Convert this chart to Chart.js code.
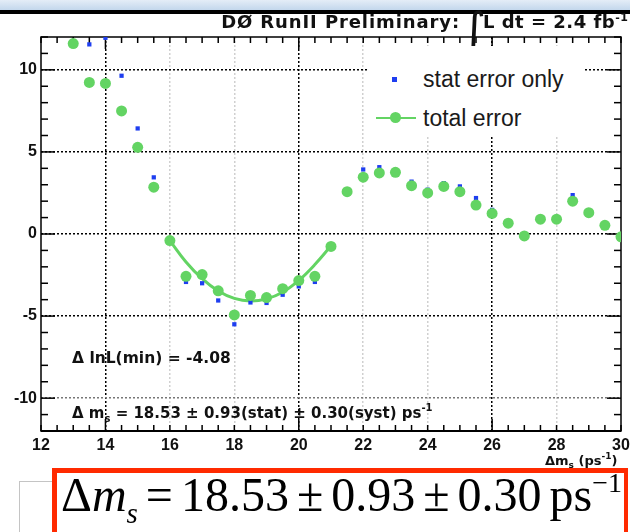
<!DOCTYPE html>
<html><head><meta charset="utf-8">
<script src="https://cdn.jsdelivr.net/npm/chart.js@4"></script>
<style>
html,body{margin:0;padding:0;background:#fff;width:630px;height:532px;overflow:hidden;position:relative;font-family:"Liberation Sans",Arial,sans-serif;}
#c{position:absolute;left:0;top:0;}
.abs{position:absolute;white-space:nowrap;}
.dj{font-family:"DejaVu Sans",sans-serif;font-weight:bold;color:#111;}
sub,sup{line-height:0;}
.g{display:inline-block;width:8px;}
</style></head><body>
<div class="abs" style="left:0;top:0;width:630px;height:10px;background:linear-gradient(#e4edf7,#c3d7ec);"></div>
<div class="abs" style="left:0;top:10px;width:630px;height:4px;background:#000;"></div>
<canvas id="c" width="630" height="470"></canvas>

<!-- title -->
<div class="abs dj" style="right:170px;top:12px;font-size:18px;line-height:20px;letter-spacing:0.9px;">D&Oslash; RunII Preliminary:</div>
<div class="abs" style="left:462px;top:4px;font-family:'DejaVu Sans';font-size:46px;line-height:50px;color:#111;">&int;</div>
<div class="abs dj" style="left:483px;top:12px;font-size:18px;line-height:20px;letter-spacing:0.5px;">L dt = 2.4 fb<sup style="font-size:11px;vertical-align:7px;">-1</sup></div>

<!-- legend -->
<div class="abs" style="left:368px;top:46px;width:217px;height:91px;background:#fff;">
  <div class="abs" style="left:24px;top:31px;width:5px;height:5px;background:#1e3ef0;"></div>
  <div class="abs" style="left:55px;top:20px;font-size:23px;line-height:26px;color:#1a1a1a;">stat error only</div>
  <div class="abs" style="left:8px;top:71px;width:40px;height:2px;background:#63d463;"></div>
  <div class="abs" style="left:22px;top:66px;width:11px;height:11px;border-radius:50%;background:#63d463;"></div>
  <div class="abs" style="left:55px;top:59px;font-size:23px;line-height:26px;color:#1a1a1a;">total error</div>
</div>

<!-- annotations -->
<div class="abs dj" style="left:72px;top:348px;font-size:15.5px;line-height:20px;">&Delta; lnL(min) = -4.08</div>
<div class="abs dj" style="left:72px;top:403px;font-size:15px;line-height:20px;">&Delta; m<sub style="font-size:10px;vertical-align:-4px;">s</sub> = 18.53 &plusmn; 0.93(stat) &plusmn; 0.30(syst) ps<sup style="font-size:10px;vertical-align:7px;">-1</sup></div>

<!-- x axis title -->
<div class="abs dj" style="left:545px;top:453px;font-size:13px;line-height:16px;">&Delta;m<sub style="font-size:9px;vertical-align:-3px;">s</sub> (ps<sup style="font-size:9px;vertical-align:6px;">-1</sup>)</div>

<!-- bottom boxes -->
<div class="abs" style="left:19px;top:481px;width:60px;height:60px;border:1px solid #c4c4c4;background:#fff;"></div>
<div class="abs" style="left:52px;top:468px;width:576px;height:80px;box-sizing:border-box;border:5px solid #ff2a00;border-right-width:4px;background:#fff;"></div>
<div class="abs" style="left:61px;top:468px;font-family:'Liberation Serif','Times New Roman',serif;font-size:48px;line-height:54px;color:#000;">&Delta;<i>m</i><sub style="font-size:29px;vertical-align:-12px;"><i>s</i></sub><span class="g"></span>=<span class="g"></span>18.53<span class="g"></span>&plusmn;<span class="g"></span>0.93<span class="g"></span>&plusmn;<span class="g"></span>0.30<span class="g"></span>ps<sup style="font-size:28px;vertical-align:19px;">&minus;1</sup></div>

<script>
// ---- data ----
const statX = [13.5, 14.0, 14.5, 15.0, 15.5, 16.5, 17.0, 17.5, 18.0, 18.5, 19.0, 19.5, 20.0, 20.5, 22.0, 22.5, 23.5, 24.0, 24.5, 25.0, 25.5, 26.0, 28.5];
const statY = [11.55, 11.95, 9.64, 6.43, 3.45, -2.92, -3.0, -4.05, -5.5, -4.17, -4.2, -3.7, -3.19, -2.92, 3.93, 4.07, 3.19, 2.7, 3.1, 2.9, 2.19, 1.47, 2.37];

const totalX = [13.0, 13.5, 14.0, 14.5, 15.0, 15.5, 16.0, 16.5, 17.0, 17.5, 18.0, 18.5, 19.0, 19.5, 20.0, 20.5, 21.0, 21.5, 22.0, 22.5, 23.0, 23.5, 24.0, 24.5, 25.0, 25.5, 26.0, 26.5, 27.0, 27.5, 28.0, 28.5, 29.0, 29.5, 30.0];
const totalY = [11.6, 9.23, 9.17, 7.5, 5.28, 2.85, -0.4, -2.58, -2.47, -3.46, -4.93, -3.74, -3.87, -3.33, -2.84, -2.58, -0.76, 2.58, 3.46, 3.72, 3.76, 2.94, 2.5, 2.9, 2.58, 1.76, 1.25, 0.66, -0.12, 0.9, 0.9, 2.0, 1.3, 0.53, -0.17];

const fitX = [16.0, 16.5, 17.0, 17.5, 18.0, 18.5, 19.0, 19.5, 20.0, 20.5, 21.0];
const fitY = [-0.4, -1.7, -2.72, -3.47, -3.92, -4.08, -3.95, -3.55, -2.83, -1.86, -0.72];

const xTickLabels = [12, 14, 16, 18, 20, 22, 24, 26, 28, 30];
const xMajor = [14, 20, 26];
const yTickLabels = [-10, -5, 0, 5, 10];

const pts = (xs, ys) => xs.map((x, i) => ({x, y: ys[i]}));

const frameTicks = {
  id: 'frameTicks',
  beforeDatasetsDraw(chart) {
    const {ctx, chartArea: a, scales: {x, y}} = chart;
    ctx.save();
    ctx.strokeStyle = '#000';
    ctx.lineWidth = 1.5;
    const ln = (x1, y1, x2, y2) => { ctx.beginPath(); ctx.moveTo(x1, y1); ctx.lineTo(x2, y2); ctx.stroke(); };
    for (let v = x.min; v <= x.max + 1e-9; v += 0.5) {
      const px = x.getPixelForValue(v);
      const L = xMajor.includes(v) ? 12 : 6;
      ln(px, a.bottom, px, a.bottom - L);
      ln(px, a.top, px, a.top + L);
    }
    for (let v = y.min; v <= y.max + 1e-9; v += 1) {
      const py = y.getPixelForValue(v);
      const L = yTickLabels.includes(v) ? 14 : 7;
      ln(a.left, py, a.left + L, py);
      ln(a.right, py, a.right - L, py);
    }
    ctx.lineWidth = 1.5;
    ctx.strokeRect(a.left, a.top, a.right - a.left, a.bottom - a.top);
    ctx.lineWidth = 2;
    ln(a.left, a.bottom, a.right, a.bottom);
    ctx.restore();
  }
};

new Chart(document.getElementById('c'), {
  type: 'scatter',
  data: {
    datasets: [
      { label: 'total error', data: pts(totalX, totalY), pointStyle: 'circle', pointRadius: 5.5,
        backgroundColor: '#63d463', borderColor: '#63d463', borderWidth: 0, showLine: false },
      { label: 'stat error only', data: pts(statX, statY), pointStyle: 'rect', pointRadius: 3,
        backgroundColor: '#1e3ef0', borderColor: '#1e3ef0', borderWidth: 0, showLine: false },
      { label: 'fit', data: pts(fitX, fitY), showLine: true, pointRadius: 0, borderColor: '#63d463',
        borderWidth: 3, tension: 0.4, fill: false }
    ]
  },
  options: {
    responsive: false,
    animation: false,
    devicePixelRatio: 1,
    layout: { padding: { top: 37, right: 9, left: 0, bottom: 0 } },
    plugins: { legend: { display: false }, tooltip: { enabled: false } },
    scales: {
      x: {
        type: 'linear', min: 12, max: 30,
        afterBuildTicks: s => { s.ticks = xTickLabels.map(v => ({value: v})); },
        afterFit: s => { s.height = 39; s.paddingLeft = 0; s.paddingRight = 0; },
        ticks: { padding: 5, color: '#111', font: { family: 'Liberation Sans', size: 16, weight: 'bold' }, maxRotation: 0, autoSkip: false },
        grid: {
          drawTicks: false, lineWidth: 1.5,
          color: c => (c.tick && xMajor.includes(c.tick.value)) ? '#000' :
                      (c.tick && (c.tick.value === 12 || c.tick.value === 30)) ? 'rgba(0,0,0,0)' : '#d0d0d0'
        },
        border: { display: false, dash: [2, 2] }
      },
      y: {
        type: 'linear', min: -12, max: 12,
        afterBuildTicks: s => { s.ticks = yTickLabels.map(v => ({value: v})); },
        afterFit: s => { s.width = 41; },
        ticks: { padding: 4, color: '#111', font: { family: 'Liberation Sans', size: 16, weight: 'bold' } },
        grid: {
          drawTicks: false, lineWidth: 1.5,
          color: c => (c.tick && c.tick.value === -10) ? '#777' : '#000'
        },
        border: { display: false, dash: [2, 2] }
      }
    }
  },
  plugins: [frameTicks]
});
</script>
</body></html>
